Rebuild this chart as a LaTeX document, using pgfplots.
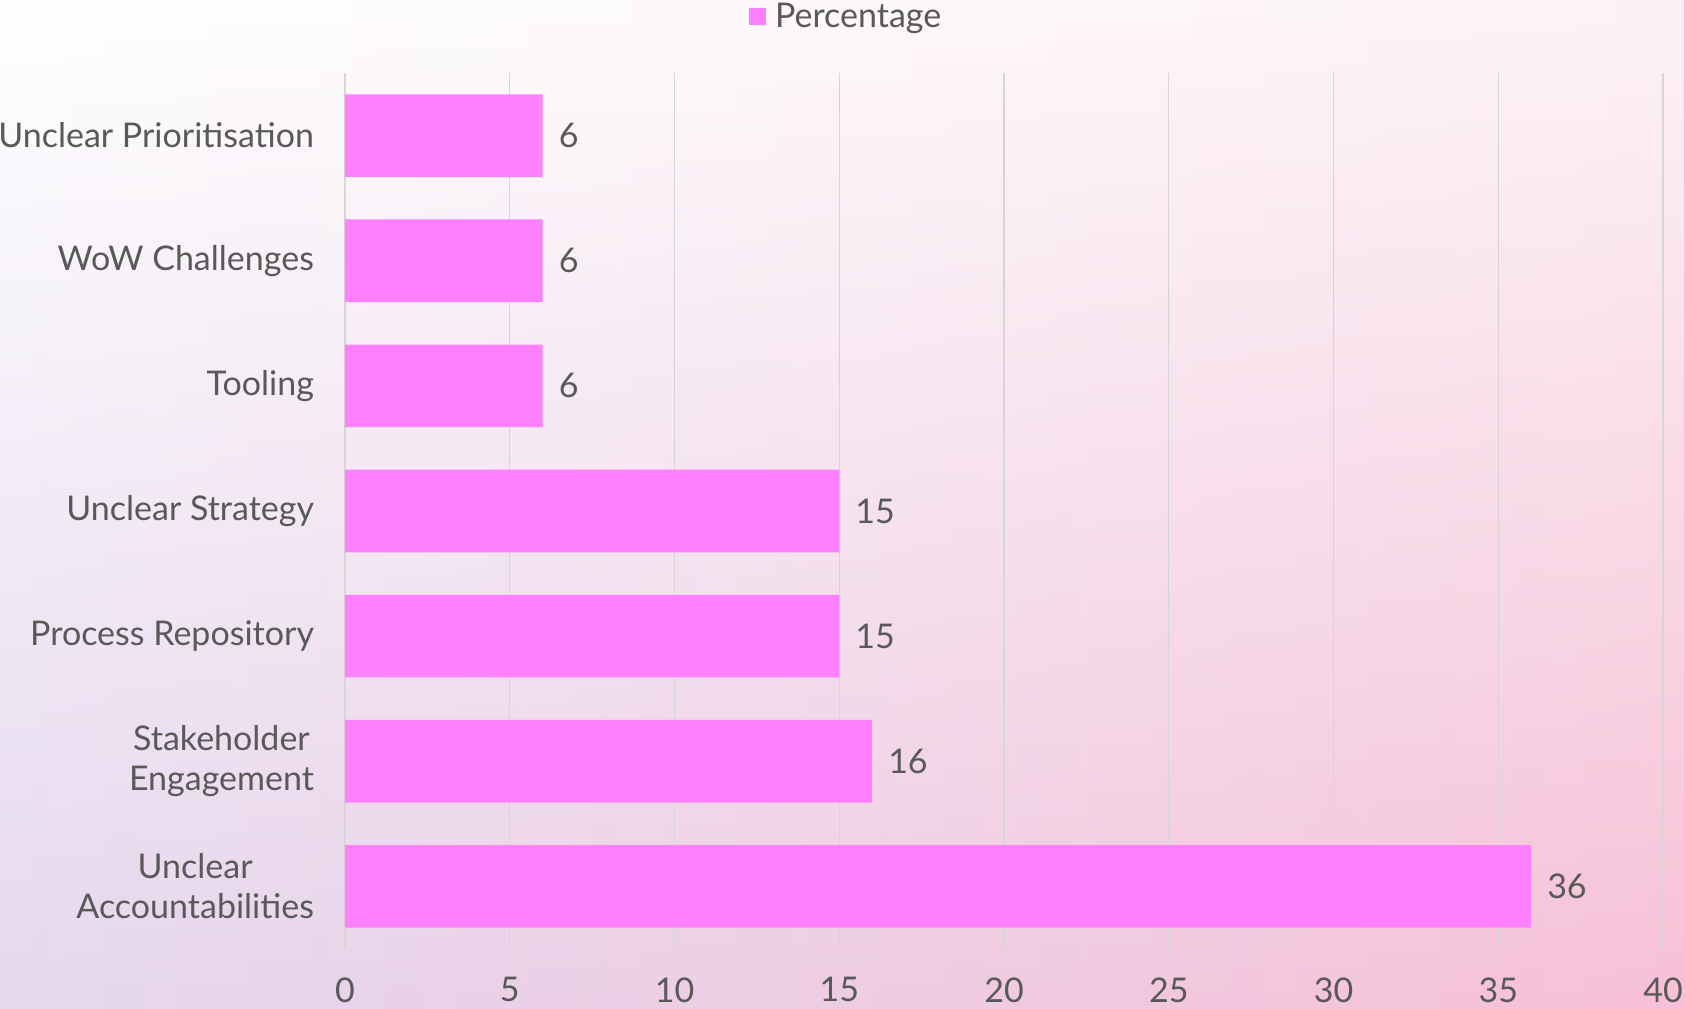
\documentclass[border=0pt]{standalone}
\usepackage{pgfplots}
\pgfplotsset{compat=1.18}
\usepackage{fontspec}
\setmainfont{Lato}
\usetikzlibrary{fadings}
\definecolor{txt}{HTML}{595959}
\definecolor{barc}{HTML}{FF80FF}
\definecolor{gridc}{HTML}{D6D6D6}
\definecolor{cTL}{HTML}{FFFFFF}
\definecolor{cTR}{HTML}{FDF3F7}
\definecolor{cBL}{HTML}{E5D8EF}
\definecolor{cBR}{HTML}{F7C0D6}
\begin{document}
\begin{tikzpicture}
\useasboundingbox (0,0) rectangle (842.5pt,504pt);
\shade[left color=cBL, right color=cBR] (0,0) rectangle (842.5pt,504pt);
\shade[left color=cTL, right color=cTR, path fading=south] (0,0) rectangle (842.5pt,504pt);
\begin{axis}[
  at={(172.5pt,29.5pt)}, anchor=south west,
  scale only axis, width=659pt, height=438pt,
  xbar, bar width=0.66,
  xmin=0, xmax=40, ymin=-0.5, ymax=6.5,
  xtick={0,5,...,40},
  ytick={0,...,6},
  yticklabels={{Unclear\\Accountabilities},{Stakeholder\\Engagement},Process Repository,Unclear Strategy,Tooling,WoW Challenges,Unclear Prioritisation},
  yticklabel style={align=center, font=\fontsize{17}{20}\selectfont, text=txt, xshift=-12pt},
  xticklabel style={font=\fontsize{17}{20}\selectfont, text=txt, yshift=-10.7pt},
  /pgf/number format/assume math mode=true,
  major tick length=0pt,
  xmajorgrids, grid style={gridc, line width=0.7pt},
  axis x line*=bottom, x axis line style={draw=none},
  axis y line*=left, y axis line style={gridc, line width=0.8pt, -},
  nodes near coords,
  nodes near coords style={font=\fontsize{17}{20}\selectfont, text=txt, xshift=4.5pt},
  legend style={draw=none, fill=none, at={(0.381,1.064)}, anchor=center, font=\fontsize{17}{20}\selectfont, text=txt, /tikz/every odd column/.append style={column sep=2.5pt}},
  legend image code/.code={\fill[barc] (0pt,-4.25pt) rectangle (8.5pt,4.25pt);},
]
\addplot[fill=barc, draw=none] coordinates {(36,0) (16,1) (15,2) (15,3) (6,4) (6,5) (6,6)};
\addlegendentry{Percentage}
\end{axis}
\end{tikzpicture}
\end{document}
